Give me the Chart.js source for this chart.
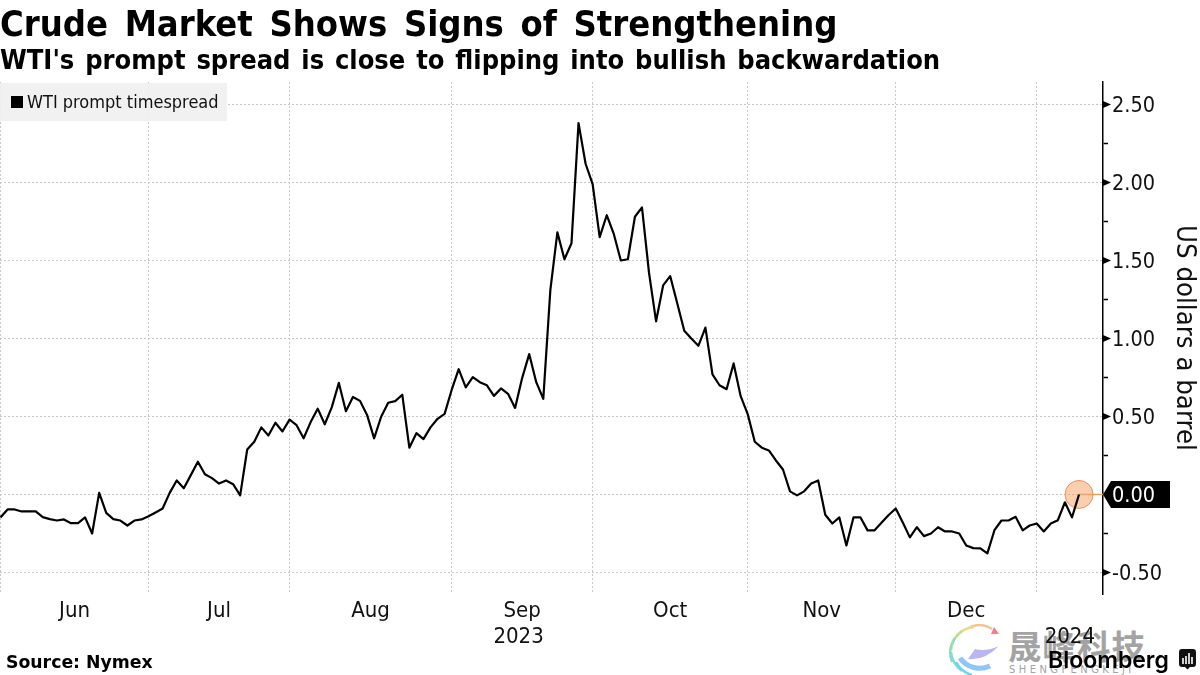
<!DOCTYPE html>
<html>
<head>
<meta charset="utf-8">
<title>Crude Market Shows Signs of Strengthening</title>
<script src="https://cdn.jsdelivr.net/npm/chart.js@4"></script>
<style>
	html, body { margin: 0; padding: 0; background: #fff; }
	#page { position: relative; width: 1200px; height: 675px; overflow: hidden; }
	#page div, #page svg { position: absolute; white-space: nowrap; }
	/* the x axis keeps 15px free on its left, so the canvas starts off the page */
	#chartBox { left: -15px; top: 0; width: 1215px; height: 675px; }
	#title { left: 0; top: 3px; font: bold 36px "DejaVu Sans Condensed"; word-spacing: 5.4px; color: #000; }
	#subtitle { left: 0; top: 44px; font: bold 27px "DejaVu Sans Condensed"; word-spacing: 2.4px; color: #000; }
	#legend { left: 0; top: 83px; width: 227px; height: 38px; background: rgba(240,240,240,0.92); }
	#legendSwatch { left: 11px; top: 13px; width: 12px; height: 12px; background: #000; }
	#legendText { left: 27px; top: 8px; font: 18px "DejaVu Sans Condensed"; color: #111; }
	#source { left: 6px; top: 652px; font: bold 17.3px "DejaVu Sans"; color: #000; }
	#wmCn { left: 1008px; top: 620px; font: bold 33.5px "Noto Sans CJK SC"; color: #a3a3a3; letter-spacing: 1px; }
	#wmEn { left: 1009px; top: 664px; font: 10px "DejaVu Sans"; color: #a3a3a3; letter-spacing: 3.4px; }
	#brand { left: 1048px; top: 646px; font: 600 23px "Inter"; color: #000; }
</style>
</head>
<body>
<div id="page">
	<svg id="logo" style="left:948px;top:624px" width="54" height="52" viewBox="0 0 54 52" fill="none" stroke-width="2.5">
		<path d="M44 5 A24 24 0 0 0 22 3" stroke="#f4c48f"/>
		<path d="M26 3 A25 25 0 0 0 8 13" stroke="#e6dc8a"/>
		<path d="M14 7 A26 26 0 0 0 3 26" stroke="#b9e08a"/>
		<path d="M7 14 A26 26 0 0 0 4 38" stroke="#8fe0b8"/>
		<path d="M3 28 A26 26 0 0 0 14 47" stroke="#7fdcdc"/>
		<path d="M8 38 A26 26 0 0 0 24 51" stroke="#6fd3ee"/>
		<path d="M12 34 A24 24 0 0 0 42 42" stroke="#8fc6f5" stroke-width="5"/>
		<path d="M20 35 Q36 37 51 22 Q38 28 27 25 Z" fill="#b9b6f2" stroke="none"/>
		<path d="M46 3 L51 10 L43 10 Z" fill="#ef7f8a" stroke="none"/>
	</svg>
	<div id="wmCn">晟峰科技</div>
	<div id="wmEn">SHENGFENGKEJI</div>
	<div id="chartBox"><canvas id="spreadChart" width="1215" height="675"></canvas></div>
	<div id="title">Crude Market Shows Signs of Strengthening</div>
	<div id="subtitle">WTI's prompt spread is close to flipping into bullish backwardation</div>
	<div id="legend">
		<div id="legendSwatch"></div>
		<div id="legendText">WTI prompt timespread</div>
	</div>
	<div id="source">Source: Nymex</div>
	<div id="brand">Bloomberg</div>
	<svg id="brandIcon" style="left:1179px;top:649px" width="17" height="21" viewBox="0 0 17 21">
		<path d="M3 0 H14 Q17 0 17 3 V15 Q17 18 14 18 H11 L8.5 20.5 L6 18 H3 Q0 18 0 15 V3 Q0 0 3 0 Z" fill="#111"/>
		<path d="M4 9 V15 M7 7 V15 M10 4 V15 M13 8 V15" stroke="#fff" stroke-width="1.6"/>
	</svg>
</div>

<script>
// one value per trading day (1 Jun 2023 .. early Jan 2024)
const spreadValues = [
	-0.147, -0.096, -0.096, -0.109, -0.109, -0.109, -0.145, -0.158, -0.167, -0.160,
	-0.184, -0.184, -0.147, -0.250, 0.010, -0.118, -0.158, -0.167, -0.199, -0.167,
	-0.160, -0.139, -0.115, -0.090, 0.010, 0.090, 0.040, 0.124, 0.210, 0.130,
	0.105, 0.070, 0.090, 0.066, -0.006, 0.288, 0.338, 0.430, 0.378, 0.460,
	0.404, 0.480, 0.444, 0.360, 0.464, 0.550, 0.450, 0.560, 0.715, 0.534,
	0.625, 0.600, 0.510, 0.360, 0.498, 0.588, 0.598, 0.639, 0.300, 0.393,
	0.355, 0.430, 0.485, 0.517, 0.670, 0.803, 0.686, 0.752, 0.720, 0.700,
	0.632, 0.680, 0.645, 0.555, 0.746, 0.900, 0.720, 0.613, 1.310, 1.680,
	1.508, 1.610, 2.380, 2.120, 1.990, 1.650, 1.790, 1.670, 1.500, 1.508,
	1.780, 1.840, 1.420, 1.110, 1.340, 1.400, 1.226, 1.050, 1.000, 0.953,
	1.070, 0.770, 0.700, 0.675, 0.840, 0.630, 0.515, 0.338, 0.300, 0.282,
	0.218, 0.160, 0.020, -0.006, 0.020, 0.070, 0.090, -0.130, -0.186, -0.147,
	-0.327, -0.147, -0.147, -0.230, -0.230, -0.180, -0.132, -0.090, -0.180, -0.275,
	-0.210, -0.267, -0.250, -0.210, -0.237, -0.237, -0.250, -0.327, -0.344, -0.346,
	-0.378, -0.229, -0.167, -0.167, -0.143, -0.230, -0.199, -0.186, -0.237, -0.186,
	-0.165, -0.050, -0.147, 0.000
];

// trading-day index where each month starts
const monthStarts = [0, 21, 41, 64, 84, 106, 127, 147];
const monthLabels = ['Jun', 'Jul', 'Aug', 'Sep', 'Oct', 'Nov', 'Dec', ''];

const yearLabels = ['2023', '2024'];
const yTickStep = 0.25;
const yMin = -0.638;
const yMax = 2.644;
const xMin = -0.07;
const xMax = 156.4;

const seriesName = 'WTI prompt timespread';
const yAxisTitle = 'US dollars a barrel';

const lastIndex = spreadValues.length - 1;
const lastValue = spreadValues[lastIndex];

const gridColor = '#c6c6c6';
const gridDash = [2, 2];

// labels sit in the middle of each month, grid lines on the month starts
const xLabelByTick = {};
monthStarts.forEach(function(start, i) {
	const end = i + 1 < monthStarts.length ? monthStarts[i + 1] : xMax;
	if (monthLabels[i]) xLabelByTick[(start + end) / 2] = monthLabels[i];
});
xLabelByTick[(monthStarts[0] + monthStarts[7]) / 2] = ['', yearLabels[0]];
xLabelByTick[(monthStarts[7] + xMax) / 2] = ['', yearLabels[1]];

function isMajorY(value) {
	return Math.abs(value * 2 - Math.round(value * 2)) < 1e-6;
}

// black tag behind the last value on the y axis
const lastValueTag = {
	id: 'lastValueTag',
	beforeDraw: function(chart) {
		const ctx = chart.ctx;
		const y = chart.scales.y.getPixelForValue(lastValue);
		const x = chart.chartArea.right;
		ctx.save();
		ctx.fillStyle = '#000';
		ctx.beginPath();
		ctx.moveTo(x, y);
		ctx.lineTo(x + 8, y - 13.5);
		ctx.lineTo(x + 67, y - 13.5);
		ctx.lineTo(x + 67, y + 13.5);
		ctx.lineTo(x + 8, y + 13.5);
		ctx.closePath();
		ctx.fill();
		ctx.restore();
	},
	// major ticks are small wedges pointing away from the axis
	afterDraw: function(chart) {
		const ctx = chart.ctx;
		const x = chart.chartArea.right;
		ctx.save();
		ctx.fillStyle = '#000';
		chart.scales.y.ticks.forEach(function(tick) {
			if (!isMajorY(tick.value) || tick.value === lastValue) return;
			const y = chart.scales.y.getPixelForValue(tick.value);
			ctx.beginPath();
			ctx.moveTo(x, y - 3.5);
			ctx.lineTo(x + 8, y);
			ctx.lineTo(x, y + 3.5);
			ctx.closePath();
			ctx.fill();
		});
		ctx.restore();
	}
};

function initSpreadChart() {
	const ctx = document.getElementById('spreadChart').getContext('2d');
	new Chart(ctx, {
		type: 'line',
		data: {
			datasets: [{
				label: seriesName,
				data: spreadValues.map(function(v, i) { return { x: i, y: v }; }),
				borderColor: '#000',
				borderWidth: 2.2,
				borderJoinStyle: 'round',
				pointRadius: 0,
				tension: 0,
				order: 1
			}, {
				label: 'last marker',
				data: [{ x: lastIndex, y: lastValue }],
				showLine: false,
				pointRadius: 14,
				pointBackgroundColor: 'rgba(245,165,110,0.55)',
				pointBorderColor: 'rgba(225,140,85,0.9)',
				pointBorderWidth: 1,
				order: 2
			}, {
				label: 'last connector',
				data: [{ x: lastIndex, y: lastValue }, { x: xMax, y: lastValue }],
				borderColor: '#e8a25e',
				borderWidth: 1.5,
				pointRadius: 0,
				order: 3
			}]
		},
		options: {
			responsive: false,
			animation: false,
			layout: { padding: { top: 82, left: 0, right: 0, bottom: 0 } },
			plugins: {
				legend: { display: false },
				tooltip: { enabled: false }
			},
			scales: {
				x: {
					type: 'linear',
					min: xMin,
					max: xMax,
					afterBuildTicks: function(axis) {
						const values = monthStarts.concat(Object.keys(xLabelByTick).map(Number));
						values.sort(function(a, b) { return a - b; });
						axis.ticks = values.map(function(v) { return { value: v }; });
					},
					afterFit: function(axis) {
						axis.height = 81;
						axis.paddingLeft = 0;
						axis.paddingRight = 0;
					},
					border: { display: false, dash: gridDash },
					grid: {
						drawTicks: false,
						color: function(c) {
							return monthStarts.indexOf(c.tick.value) >= 0 ? gridColor : 'transparent';
						},
						lineWidth: 1,
						tickLength: 0
					},
					ticks: {
						autoSkip: false,
						maxRotation: 0,
						padding: 5,
						color: '#111',
						font: { family: 'DejaVu Sans Condensed', size: 22, lineHeight: 1.15 },
						callback: function(value) { return xLabelByTick[value] || ''; }
					}
				},
				y: {
					position: 'right',
					min: yMin,
					max: yMax,
					afterFit: function(axis) { axis.width = 97; },
					border: { display: true, color: '#000', width: 1.5, dash: gridDash },
					grid: {
						color: function(c) {
							return isMajorY(c.tick.value) ? gridColor : 'transparent';
						},
						tickColor: function(c) {
							return isMajorY(c.tick.value) ? 'transparent' : '#000';
						},
						tickBorderDash: [],
						tickWidth: 1.5,
						tickLength: 5
					},
					ticks: {
						stepSize: yTickStep,
						includeBounds: false,
						padding: 4,
						labelOffset: 2,
						color: function(c) { return c.tick.value === lastValue ? '#fff' : '#111'; },
						font: { family: 'DejaVu Sans Condensed', size: 21.5 },
						callback: function(value) {
							return isMajorY(value) ? value.toFixed(2) : '';
						}
					},
					title: {
						display: true,
						text: yAxisTitle,
						color: '#111',
						font: { family: 'DejaVu Sans Condensed', size: 27.3 },
						padding: { top: 0, bottom: 0 }
					}
				}
			}
		},
		plugins: [lastValueTag]
	});
}

document.addEventListener('DOMContentLoaded', function() {
	initSpreadChart();
});
</script>
</body>
</html>
